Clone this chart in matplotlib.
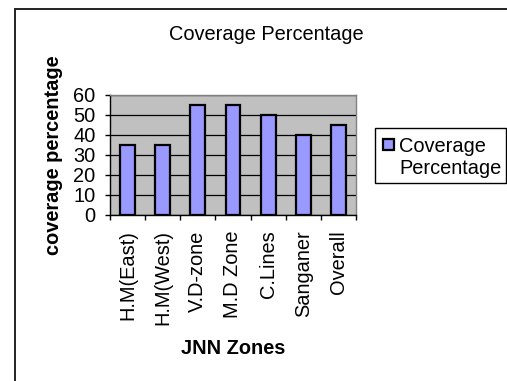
import numpy as np
import matplotlib
matplotlib.use("Agg")
import matplotlib.pyplot as plt
from matplotlib.patches import Rectangle

plt.rcParams['font.family'] = ['Liberation Sans', 'DejaVu Sans']

# coverage per zone
zones = ['H.M(East)', 'H.M(West)', 'V.D-zone', 'M.D Zone', 'C.Lines', 'Sanganer', 'Overall']
coverage = [35, 35, 55, 55, 50, 40, 45]
yticks = [0, 10, 20, 30, 40, 50, 60]

FS = 14.4
W, H = 507, 381
fig = plt.figure(figsize=(W / 100, H / 100), dpi=100)
fig.patch.set_facecolor('white')

def fx(px):
    return px / W

def fy(py):
    return 1 - py / H

# outer chart border (runs off the right and bottom edges)
fig.patches.append(Rectangle((fx(15), -0.1), 1.2, fy(9) + 0.1, transform=fig.transFigure,
                             fill=False, edgecolor='#222222', linewidth=1.4))

ax = fig.add_axes([fx(110), fy(215), fx(356) - fx(110), fy(95) - fy(215)])
ax.set_facecolor('#C0C0C0')

x = np.arange(len(zones))
ax.bar(x, coverage, width=0.42, color='#9999FF', edgecolor='black', linewidth=1.6, zorder=3)

ax.set_xlim(-0.5, len(zones) - 0.5)
ax.set_ylim(0, 60)
ax.set_yticks(yticks)
ax.set_yticklabels([str(v) for v in yticks], fontsize=FS)
ax.yaxis.grid(True, color='black', linewidth=0.9, zorder=1)
ax.set_axisbelow(True)

ax.set_xticks(x)
ax.set_xticklabels(zones, rotation=90, fontsize=FS, ha='center', va='top')
ax.set_xticks(np.arange(-0.5, len(zones), 1), minor=True)
ax.tick_params(axis='x', which='major', length=0, pad=11)
ax.tick_params(axis='x', which='minor', length=3.8, width=1, direction='out')
ax.tick_params(axis='y', length=3.8, width=1, direction='out', pad=6.5)

for side in ['left', 'bottom']:
    ax.spines[side].set_color('black')
    ax.spines[side].set_linewidth(1)
for side in ['top', 'right']:
    ax.spines[side].set_color('#808080')
    ax.spines[side].set_linewidth(1)

fig.text(fx(266.5), fy(40.5), 'Coverage Percentage', fontsize=FS, ha='center', va='baseline')
fig.text(fx(233), fy(354), 'JNN Zones', fontsize=FS, fontweight='bold', ha='center', va='baseline')
fig.text(fx(54), fy(155), 'coverage percentage', fontsize=FS, fontweight='bold',
         rotation=90, ha='center', va='center')

# legend box
fig.patches.append(Rectangle((fx(375), fy(183)), fx(506) - fx(375), fy(128) - fy(183),
                             transform=fig.transFigure, facecolor='white',
                             edgecolor='black', linewidth=1))
fig.patches.append(Rectangle((fx(383), fy(150)), fx(394) - fx(383), fy(139) - fy(150),
                             transform=fig.transFigure, facecolor='#9999FF',
                             edgecolor='black', linewidth=1.6))
fig.text(fx(399), fy(152), 'Coverage', fontsize=FS, ha='left', va='baseline')
fig.text(fx(399), fy(174), 'Percentage', fontsize=FS, ha='left', va='baseline')

fig.savefig('out.png', dpi=100)
